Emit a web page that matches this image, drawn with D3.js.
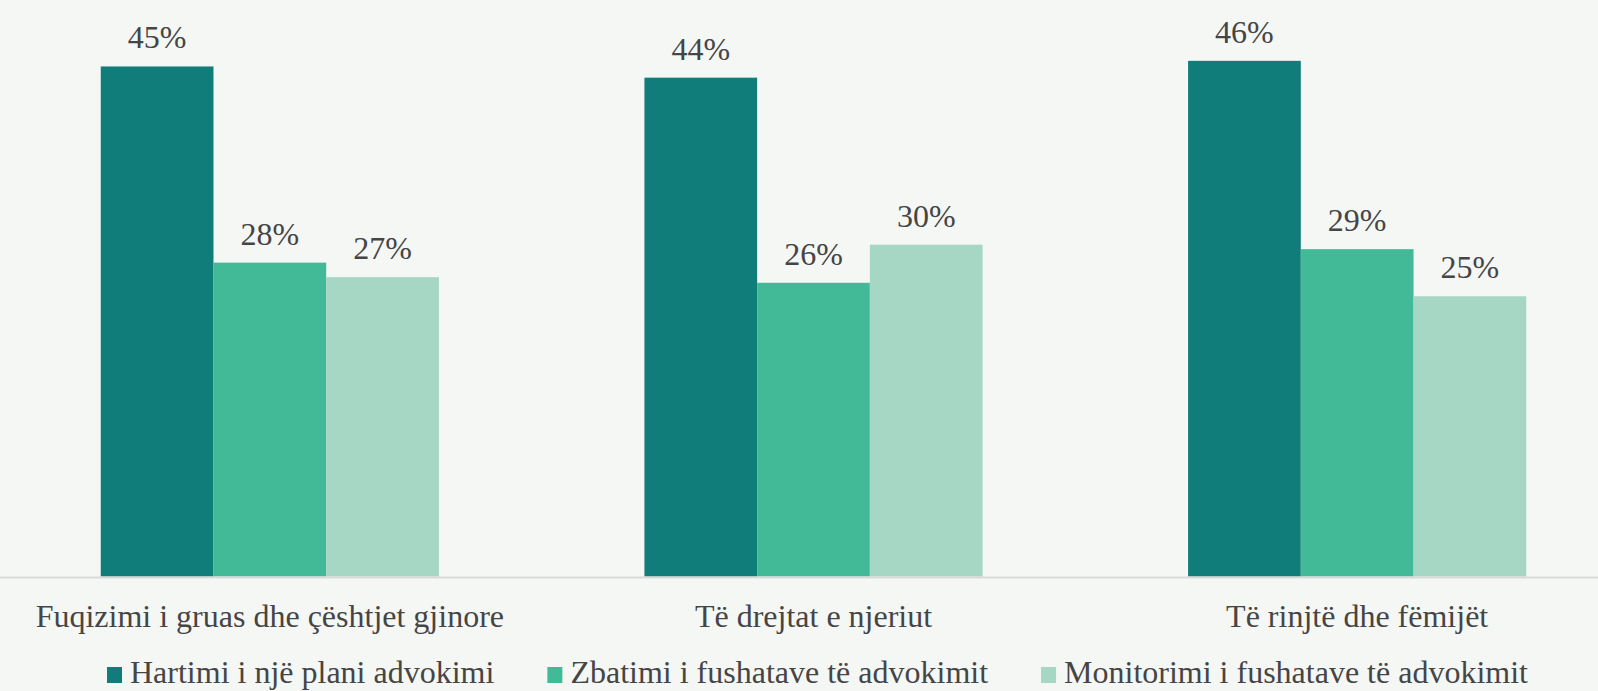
<!DOCTYPE html>
<html>
<head>
<meta charset="utf-8">
<script src="https://cdn.jsdelivr.net/npm/d3@7"></script>
<style>
  html, body { margin: 0; padding: 0; background: #f5f7f5; }
  svg { display: block; }
</style>
</head>
<body>
<div id="chart"></div>
<script>
// data
const categories = ["Fuqizimi i gruas dhe çështjet gjinore", "Të drejtat e njeriut", "Të rinjtë dhe fëmijët"];
const seriesNames = ["Hartimi i një plani advokimi", "Zbatimi i fushatave të advokimit", "Monitorimi i fushatave të advokimit"];
const hartimi = [45.5, 44.5, 46];
const zbatimi = [28, 26.2, 29.2];
const monitorimi = [26.7, 29.6, 25];
// percentages as printed above the bars
const hartimiLabels = [45, 44, 46];
const zbatimiLabels = [28, 26, 29];
const monitorimiLabels = [27, 30, 25];
const colors = ["#117d7a", "#43ba97", "#a6d6c4"];

const width = 1598;
const height = 691;
const baseline = 576.5;
const font = "'Liberation Serif', 'Times New Roman', serif";
const textColor = "#454545";

const seriesValues = [hartimi, zbatimi, monitorimi];
const seriesLabels = [hartimiLabels, zbatimiLabels, monitorimiLabels];

let rows = [];
categories.forEach((c, i) => {
    seriesNames.forEach((s, j) => {
        rows.push({cat: c, series: s, value: seriesValues[j][i], label: seriesLabels[j][i], color: colors[j]});
    });
});

const x0 = d3.scaleBand(categories, [-2, 1629]).paddingInner(0.378).paddingOuter(0.189);
const x1 = d3.scaleBand(seriesNames, [0, x0.bandwidth()]);
const y = d3.scaleLinear([0, 50], [baseline, 16]);

const svg = d3.select("#chart").append("svg")
    .attr("width", width)
    .attr("height", height)
    .attr("viewBox", [0, 0, width, height]);

svg.append("rect")
    .attr("width", width)
    .attr("height", height)
    .attr("fill", "#f5f7f5");

// bars
svg.append("g")
    .selectAll("rect")
    .data(rows)
    .join("rect")
    .attr("x", d => x0(d.cat) + x1(d.series))
    .attr("y", d => y(d.value))
    .attr("width", x1.bandwidth())
    .attr("height", d => y(0) - y(d.value))
    .attr("fill", d => d.color);

// value labels
svg.append("g")
    .selectAll("text")
    .data(rows)
    .join("text")
    .attr("x", d => x0(d.cat) + x1(d.series) + x1.bandwidth() / 2)
    .attr("y", d => y(d.value) - 18)
    .attr("text-anchor", "middle")
    .attr("font-family", font)
    .attr("font-size", 32)
    .attr("fill", textColor)
    .text(d => d.label + "%");

// category axis
const xAxis = d3.axisBottom(x0).tickSize(0).tickPadding(0);
svg.append("g")
    .attr("transform", `translate(0,${baseline + 1})`)
    .call(xAxis)
    .call(g => g.select(".domain")
        .attr("d", `M0,0H${width}`)
        .attr("stroke", "#d9d9d9")
        .attr("stroke-width", 2))
    .call(g => g.selectAll(".tick text")
        .attr("y", 49)
        .attr("dy", null)
        .attr("font-family", font)
        .attr("font-size", 32)
        .attr("fill", textColor));

// legend
const legend = svg.append("g").attr("transform", "translate(107,683)");
let lx = 0;
seriesNames.forEach((s, j) => {
    const item = legend.append("g").attr("transform", `translate(${lx},0)`);
    item.append("rect")
        .attr("x", 0)
        .attr("y", -16)
        .attr("width", 15)
        .attr("height", 16)
        .attr("fill", colors[j]);
    const t = item.append("text")
        .attr("x", 23)
        .attr("y", 0)
        .attr("font-family", font)
        .attr("font-size", 32)
        .attr("fill", textColor)
        .text(s);
    lx += 23 + t.node().getComputedTextLength() + 53;
});
</script>
</body>
</html>
